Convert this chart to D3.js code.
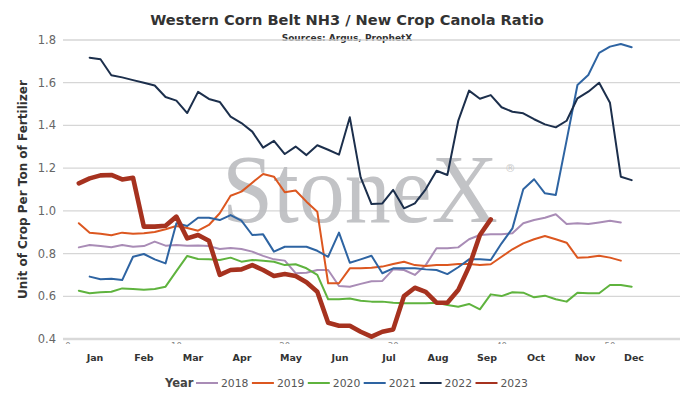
<!DOCTYPE html>
<html>
<head>
<meta charset="utf-8">
<script src="https://cdn.jsdelivr.net/npm/d3@7"></script>
<style>
  body { margin: 0; background: #fff; }
  svg { display: block; font-family: 'DejaVu Sans', sans-serif; }
  .grid line { stroke: #d6d6d6; stroke-width: 1.3; }
  .grid line.base { stroke: #d9d9d9; stroke-width: 2.5; }
  .y-tick { font-size: 11.5px; fill: #666; text-anchor: end; }
  .week-tick { font-size: 8.5px; fill: #888; text-anchor: middle; }
  .month { font-size: 9.5px; font-weight: bold; fill: #333; text-anchor: middle; }
  .series { fill: none; stroke-linejoin: round; stroke-linecap: round; }
</style>
</head>
<body>
<div id="chart"></div>
<script>
const years = ['2018', '2019', '2020', '2021', '2022', '2023'];
const startWeeks = [1, 1, 1, 2, 2, 1];

const ratio2018 = [0.829, 0.84, 0.835, 0.83, 0.84, 0.832, 0.835, 0.856, 0.837, 0.84,
    0.837, 0.838, 0.835, 0.821, 0.826, 0.821, 0.809, 0.789, 0.773, 0.767,
    0.708, 0.71, 0.723, 0.723, 0.648, 0.645, 0.658, 0.67, 0.672, 0.726,
    0.723, 0.70, 0.746, 0.825, 0.825, 0.829, 0.867, 0.887, 0.89, 0.89,
    0.895, 0.942, 0.957, 0.968, 0.984, 0.939, 0.942, 0.939, 0.946, 0.954, 0.946];
const ratio2019 = [0.942, 0.898, 0.893, 0.886, 0.898, 0.893, 0.895, 0.901, 0.914, 0.929,
    0.92, 0.907, 0.934, 0.989, 1.071, 1.09, 1.132, 1.173, 1.16, 1.087,
    1.095, 1.043, 0.996, 0.661, 0.661, 0.731, 0.731, 0.734, 0.739, 0.751,
    0.762, 0.746, 0.742, 0.746, 0.746, 0.751, 0.751, 0.746, 0.75, 0.785,
    0.82, 0.848, 0.867, 0.882, 0.867, 0.851, 0.781, 0.783, 0.79, 0.781, 0.767];
const ratio2020 = [0.626, 0.614, 0.619, 0.621, 0.637, 0.634, 0.631, 0.634, 0.645, 0.718,
    0.789, 0.775, 0.773, 0.77, 0.781, 0.762, 0.77, 0.766, 0.762, 0.746,
    0.75, 0.731, 0.70, 0.586, 0.586, 0.59, 0.579, 0.575, 0.575, 0.57,
    0.567, 0.567, 0.567, 0.57, 0.559, 0.551, 0.564, 0.539, 0.609, 0.601,
    0.619, 0.617, 0.595, 0.603, 0.586, 0.575, 0.617, 0.614, 0.614, 0.653, 0.653, 0.645];
const ratio2021 = [0.692, 0.68, 0.682, 0.676, 0.785, 0.798, 0.773, 0.754, 0.942,
    0.929, 0.968, 0.968, 0.957, 0.98, 0.954, 0.887, 0.89, 0.809, 0.832,
    0.832, 0.832, 0.813, 0.785, 0.898, 0.757, 0.773, 0.79, 0.708, 0.731,
    0.731, 0.731, 0.726, 0.723, 0.704, 0.736, 0.773, 0.773, 0.77, 0.848,
    0.918, 1.101, 1.148, 1.082, 1.074, 1.33, 1.589, 1.636, 1.74, 1.769, 1.781, 1.766];
const ratio2022 = [1.717, 1.71, 1.635, 1.625, 1.612, 1.60, 1.587, 1.533, 1.516,
    1.458, 1.557, 1.524, 1.51, 1.441, 1.411, 1.371, 1.296, 1.328, 1.266,
    1.301, 1.261, 1.307, 1.286, 1.263, 1.438, 1.157, 1.032, 1.035, 1.098,
    1.012, 1.035, 1.101, 1.188, 1.168, 1.421, 1.563, 1.525, 1.542, 1.485,
    1.464, 1.457, 1.429, 1.405, 1.391, 1.422, 1.527, 1.558, 1.60, 1.506, 1.16, 1.144];
const ratio2023 = [1.129, 1.152, 1.166, 1.168, 1.147, 1.155, 0.926, 0.926, 0.93, 0.973,
    0.871, 0.887, 0.86, 0.70, 0.723, 0.726, 0.746, 0.723, 0.695, 0.704,
    0.695, 0.666, 0.621, 0.476, 0.462, 0.462, 0.434, 0.411, 0.434, 0.445,
    0.601, 0.64, 0.621, 0.57, 0.57, 0.629, 0.739, 0.887, 0.96];

const months = ['Jan', 'Feb', 'Mar', 'Apr', 'May', 'Jun', 'Jul', 'Aug', 'Sep', 'Oct', 'Nov', 'Dec'];
const yTicks = [0.4, 0.6, 0.8, 1.0, 1.2, 1.4, 1.6, 1.8];
const weekTicks = [0, 10, 20, 30, 40, 50];

const seriesValues = [ratio2018, ratio2019, ratio2020, ratio2021, ratio2022, ratio2023];
const colors = ['#a98cb6', '#dc5720', '#5fb33e', '#2e64a2', '#1c2f4c', '#a6321f'];

function make_titles(svg, width) {
    svg.append('text')
        .attr('x', width / 2)
        .attr('y', 25)
        .attr('text-anchor', 'middle')
        .style('font-size', '14.6px')
        .style('font-weight', 'bold')
        .style('fill', '#333')
        .text('Western Corn Belt NH3 / New Crop Canola Ratio');

    svg.append('text')
        .attr('x', width / 2)
        .attr('y', 41)
        .attr('text-anchor', 'middle')
        .style('font-size', '9px')
        .style('font-weight', 'bold')
        .style('fill', '#333')
        .text('Sources: Argus, ProphetX');
}

function make_axes(svg, x, y, monthX) {
    let left = x.range()[0], right = x.range()[1];

    let grid = svg.append('g').attr('class', 'grid');
    grid.selectAll('line').data(yTicks)
        .enter()
        .append('line')
        .classed('base', function (d) { return d === 0.4; })
        .attr('x1', left)
        .attr('x2', right)
        .attr('y1', function (d) { return y(d); })
        .attr('y2', function (d) { return y(d); });

    svg.append('g').selectAll('text').data(yTicks)
        .enter()
        .append('text')
        .attr('class', 'y-tick')
        .attr('x', left - 7)
        .attr('y', function (d) { return y(d) + 4; })
        .text(function (d) { return d.toFixed(1); });

    svg.append('text')
        .attr('transform', 'translate(27,' + ((y(0.4) + y(1.8)) / 2) + ') rotate(-90)')
        .attr('text-anchor', 'middle')
        .style('font-size', '12px')
        .style('font-weight', 'bold')
        .style('fill', '#333')
        .text('Unit of Crop Per Ton of Fertilizer');

    // week numbers sit mostly hidden under the axis line
    svg.append('clipPath')
        .attr('id', 'week-clip')
        .append('rect')
        .attr('x', left - 20)
        .attr('y', y(0.4) + 2)
        .attr('width', right - left + 40)
        .attr('height', 3);

    svg.append('g')
        .attr('clip-path', 'url(#week-clip)')
        .selectAll('text').data(weekTicks)
        .enter()
        .append('text')
        .attr('class', 'week-tick')
        .attr('x', function (d) { return x(d); })
        .attr('y', y(0.4) + 9.5)
        .text(function (d) { return d; });

    svg.append('g').selectAll('text').data(months)
        .enter()
        .append('text')
        .attr('class', 'month')
        .attr('x', function (d) { return monthX(d); })
        .attr('y', 360.5)
        .text(function (d) { return d; });
}

function make_watermark(svg) {
    let mark = svg.append('g').style('opacity', 0.9);
    mark.append('text')
        .attr('transform', 'translate(222,222) scale(1,1.05)')
        .style('font-family', "'Liberation Serif', serif")
        .style('font-size', '92px')
        .style('fill', '#bcbdc0')
        .text('StoneX');
    mark.append('text')
        .attr('x', 505)
        .attr('y', 172)
        .style('font-size', '10.5px')
        .style('fill', '#c6c6c6')
        .text('\u00ae');
}

function make_lines(svg, data, x, y) {
    let line = d3.line()
        .x(function (d) { return x(d.week); })
        .y(function (d) { return y(d.ratio); });

    svg.append('g').selectAll('path').data(data)
        .enter()
        .append('path')
        .attr('class', 'series')
        .attr('d', function (d) { return line(d.values); })
        .style('stroke', function (d) { return d.color; })
        .style('stroke-width', function (d) { return d.year === '2023' ? 4.6 : 2; });
}

function make_legend(svg, data) {
    let legend = svg.append('g').attr('transform', 'translate(0,387)');

    legend.append('text')
        .attr('x', 165)
        .attr('y', 0)
        .style('font-size', '11.5px')
        .style('font-weight', 'bold')
        .style('fill', '#444')
        .text('Year');

    let items = legend.selectAll('g.item').data(data)
        .enter()
        .append('g')
        .attr('class', 'item')
        .attr('transform', function (d, i) { return 'translate(' + (196 + i * 55.9) + ',0)'; });

    items.append('line')
        .attr('x1', 0)
        .attr('x2', 22)
        .attr('y1', -4)
        .attr('y2', -4)
        .style('stroke', function (d) { return d.color; })
        .style('stroke-width', 2);

    items.append('text')
        .attr('x', 25)
        .attr('y', 0)
        .style('font-size', '10.8px')
        .style('fill', '#555')
        .text(function (d) { return d.year; });
}

function ratiochart(anchor, svgWidth = 694, svgHeight = 404) {
    let data = years.map(function (yr, i) {
        return {
            year: yr,
            color: colors[i],
            values: seriesValues[i].map(function (v, j) {
                return {week: startWeeks[i] + j, ratio: v};
            })
        };
    });

    // x is week of year, y is the ratio
    let x = d3.scaleLinear().domain([-0.46, 56.46]).range([63, 680]),
        y = d3.scaleLinear().domain([0.4, 1.8]).range([339, 40]),
        monthX = d3.scalePoint().domain(months).range([95, 634]);

    let svg = d3.select(anchor).append('svg')
        .attr('width', svgWidth)
        .attr('height', svgHeight);

    make_titles(svg, svgWidth);
    make_axes(svg, x, y, monthX);
    make_watermark(svg);
    make_lines(svg, data, x, y);
    make_legend(svg, data);
}

ratiochart('#chart');
</script>
</body>
</html>
